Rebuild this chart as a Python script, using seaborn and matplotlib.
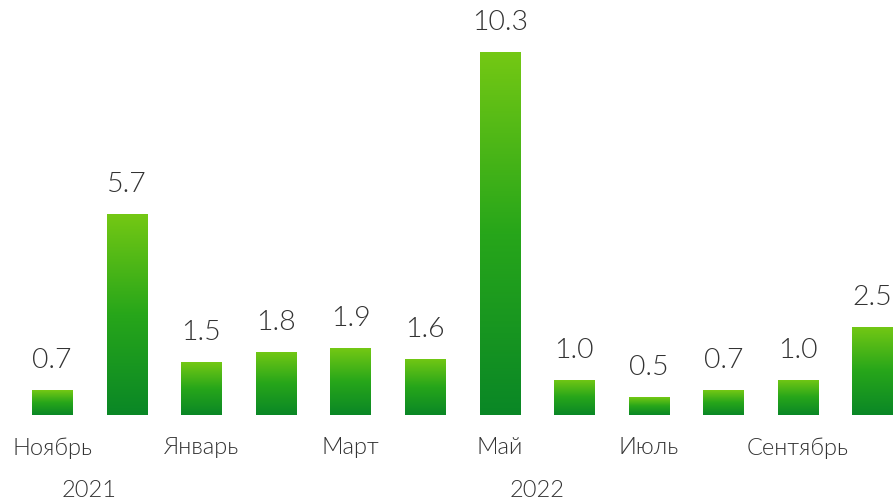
import numpy as np
import pandas as pd
import matplotlib.pyplot as plt
import seaborn as sns
from matplotlib.colors import LinearSegmentedColormap

# Data
months = ['Ноябрь', 'Декабрь', 'Январь', 'Февраль', 'Март', 'Апрель',
          'Май', 'Июнь', 'Июль', 'Август', 'Сентябрь', 'Октябрь']
values = [0.7, 5.7, 1.5, 1.8, 1.9, 1.6, 10.3, 1.0, 0.5, 0.7, 1.0, 2.5]
shown_labels = ['Ноябрь', '', 'Январь', '', 'Март', '', 'Май', '', 'Июль', '', 'Сентябрь', '']
years = ['2021', '2022']
year_pos = [0.5, 6.5]

df = pd.DataFrame({'month': months, 'value': values})

sns.set_style('white')
plt.rcParams['font.family'] = ['Lato', 'DejaVu Sans']

fig = plt.figure(figsize=(8.95, 5.01), dpi=100)
ax = fig.add_axes([0, 86 / 501, 1, 415 / 501])

sns.barplot(data=df, x='month', y='value', color='#2aa81a', width=0.54, ax=ax)

# vertical gradient inside each bar
cmap = LinearSegmentedColormap.from_list('g', ['#0a8726', '#27a61a', '#74c814'])
grad = np.linspace(0, 1, 256).reshape(-1, 1)
for p in ax.patches:
    x0, y0 = p.get_x(), p.get_y()
    w, h = p.get_width(), p.get_height()
    im = ax.imshow(grad, cmap=cmap, origin='lower', aspect='auto',
                   extent=[x0, x0 + w, y0, y0 + h], zorder=3)
    im.set_clip_path(p)
    p.set_edgecolor('none')

txt = '#333333'
for i, v in enumerate(values):
    ax.text(i, v + 0.48, f'{v:.1f}', ha='center', va='bottom', fontsize=20.5,
            fontweight=300, color=txt)

ax.set_xlim(-0.70, 11.3)
ax.set_ylim(0, 11.78)
ax.set_xticks(range(len(months)))
ax.set_xticklabels(shown_labels, fontsize=17, fontweight=300, color=txt)
ax.tick_params(axis='x', length=0, pad=16)
ax.set_yticks([])
ax.set_xlabel('')
ax.set_ylabel('')
sns.despine(ax=ax, left=True, bottom=True)

for yr, xp in zip(years, year_pos):
    ax.text(xp, -65 / 35.24, yr, ha='center', va='top', fontsize=17,
            fontweight=300, color=txt)

fig.savefig('out.png', dpi=100)
